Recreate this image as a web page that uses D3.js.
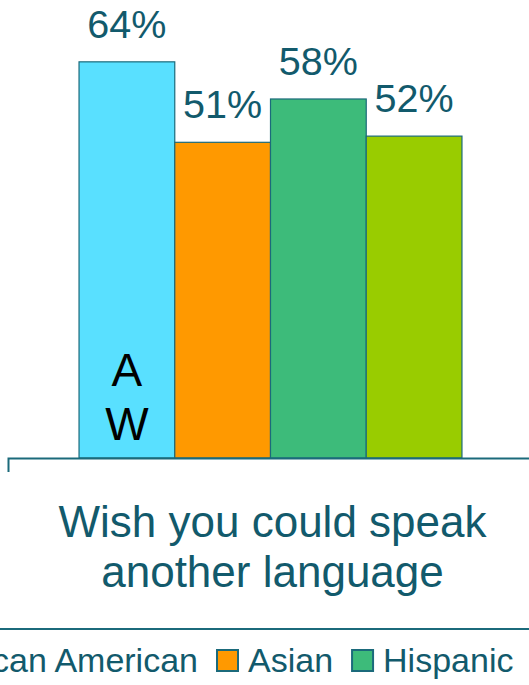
<!DOCTYPE html>
<html>
<head>
<meta charset="utf-8">
<script src="https://cdn.jsdelivr.net/npm/d3@7"></script>
<style>
  body { margin: 0; background: #fff; }
  svg { display: block; font-family: "Liberation Sans", Arial, sans-serif; }
</style>
</head>
<body>
<div id="chart"></div>
<script>
// data
const categories = ["Wish you could speak another language"];
const categoryLines = [["Wish you could speak", "another language"]];
const series = ["African American", "Asian", "Hispanic", "White"];
const values = [[64, 51, 58, 52]];
const seriesColors = ["#59e0ff", "#ff9900", "#3dbb7a", "#99cc00"];
const barNote = ["A", "W"];

const width = 529,
  height = 685,
  baseline = 458,
  textColor = "#125a6c",
  lineColor = "#1b6a7b";

const svg = d3.select("#chart").append("svg")
    .attr("width", width)
    .attr("height", height);

const x0 = d3.scaleBand()
    .domain(categories)
    .range([8, 533]);

const x1 = d3.scaleBand()
    .domain(series)
    .range([0, x0.bandwidth()])
    .paddingOuter(0.742);

const y = d3.scaleLinear()
    .domain([0, 100])
    .range([baseline, baseline - 619]);

const color = d3.scaleOrdinal().domain(series).range(seriesColors);

const groups = svg.selectAll(".group")
  .data(categories)
  .enter().append("g")
    .attr("class", "group")
    .attr("transform", d => "translate(" + x0(d) + ",0)");

groups.selectAll(".bar")
  .data((d, i) => series.map((s, j) => ({s: s, v: values[i][j]})))
  .enter().append("rect")
    .attr("class", "bar")
    .attr("x", d => x1(d.s))
    .attr("y", d => y(d.v))
    .attr("width", x1.bandwidth())
    .attr("height", d => baseline - y(d.v))
    .attr("fill", d => color(d.s))
    .attr("stroke", lineColor)
    .attr("stroke-width", 1.2);

groups.selectAll(".value")
  .data((d, i) => series.map((s, j) => ({s: s, v: values[i][j]})))
  .enter().append("text")
    .attr("class", "value")
    .attr("x", d => x1(d.s) + x1.bandwidth() / 2)
    .attr("y", d => y(d.v) - 24)
    .attr("text-anchor", "middle")
    .attr("fill", textColor)
    .style("font-size", "39.5px")
    .text(d => d.v + "%");

// note letters inside the first bar
groups.selectAll(".note")
  .data(barNote)
  .enter().append("text")
    .attr("class", "note")
    .attr("x", x1(series[0]) + x1.bandwidth() / 2)
    .attr("y", (d, i) => 386 + i * 53.5)
    .attr("text-anchor", "middle")
    .attr("fill", "#000")
    .style("font-size", "46px")
    .text(d => d);

// axis
const axis = svg.append("g")
    .attr("transform", "translate(0," + baseline + ")")
    .call(d3.axisBottom(x0).tickSize(0).tickSizeOuter(14).tickFormat(""));
axis.select(".domain").attr("stroke", lineColor).attr("stroke-width", 2);

// category label
categories.forEach((c, i) => {
  svg.append("text")
      .attr("x", x0(c) + x0.bandwidth() / 2 + 2)
      .attr("y", 537)
      .attr("text-anchor", "middle")
      .attr("fill", textColor)
      .style("font-size", "44px")
    .selectAll("tspan")
    .data(categoryLines[i])
    .enter().append("tspan")
      .attr("x", x0(c) + x0.bandwidth() / 2 + 2)
      .attr("dy", (d, k) => k === 0 ? 0 : 50)
      .text(d => d);
});

// legend
svg.append("line")
    .attr("x1", 0)
    .attr("x2", width)
    .attr("y1", 629)
    .attr("y2", 629)
    .attr("stroke", lineColor)
    .attr("stroke-width", 2);

const legend = svg.append("g").attr("class", "legend");
let lx = -90;
series.forEach(s => {
  const item = legend.append("g");
  item.append("rect")
      .attr("x", lx)
      .attr("y", 650)
      .attr("width", 21)
      .attr("height", 21)
      .attr("fill", color(s))
      .attr("stroke", lineColor)
      .attr("stroke-width", 2);
  const t = item.append("text")
      .attr("x", lx + 31)
      .attr("y", 672)
      .attr("fill", textColor)
      .style("font-size", "34px")
      .text(s);
  lx += 31 + t.node().getComputedTextLength() + 19;
});
</script>
</body>
</html>
